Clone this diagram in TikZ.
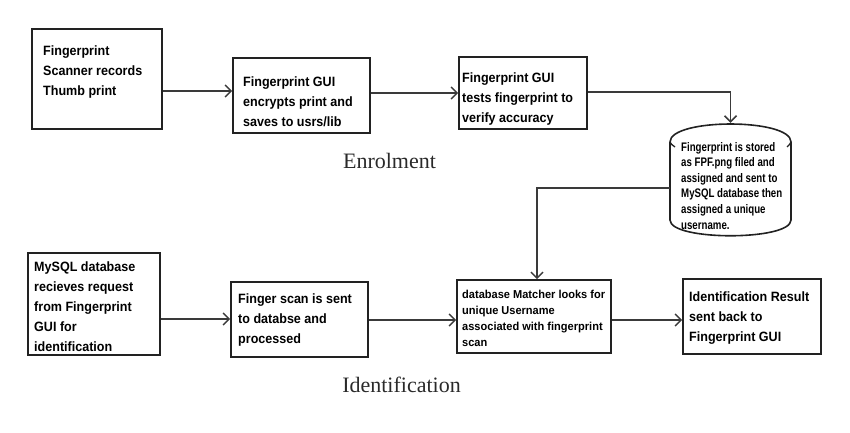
\documentclass[tikz,border=0pt]{standalone}
\usepackage{fontspec}
\setmainfont{Liberation Sans}
\newfontfamily\boxfont[FakeStretch=0.93]{Liberation Sans}
\newfontfamily\smallfont[FakeStretch=0.96]{Liberation Sans}
\newfontfamily\narrowfont[FakeStretch=0.78]{Liberation Sans}
\newfontfamily\labelfont{Liberation Serif}
\usetikzlibrary{arrows.meta,calc}
\definecolor{boxline}{HTML}{222222}
\definecolor{arrline}{HTML}{3A3A3A}
\definecolor{labtext}{HTML}{2A2A2A}
\tikzset{
  procbox/.style={draw=boxline, line width=1.6pt, rectangle, inner sep=0pt, fill=white},
  boxtext/.style={anchor=north west, inner sep=0pt, align=left, text=black,
    font=\boxfont\fontsize{13.5}{20}\selectfont\bfseries},
  smalltext/.style={anchor=north west, inner sep=0pt, align=left, text=black,
    font=\smallfont\fontsize{11.5}{16}\selectfont\bfseries},
  cyltext/.style={anchor=north west, inner sep=0pt, align=left, text=black,
    font=\narrowfont\fontsize{12.4}{15.6}\selectfont\bfseries},
  arr/.style={draw=arrline, line width=1.5pt, -{Straight Barb[length=6pt,width=12pt,line width=1.5pt]}},
  sectlabel/.style={anchor=base, inner sep=0pt, text=labtext, font=\labelfont\fontsize{22}{24}\selectfont}
}
\begin{document}
\begin{tikzpicture}[x=1pt,y=-1pt]
\useasboundingbox (0,0) rectangle (850,432);

% boxes
\node[procbox, minimum width=130pt, minimum height=100pt] (A) at (97,79) {};
\node[procbox, minimum width=137pt, minimum height=75pt] (B) at (301.5,95.5) {};
\node[procbox, minimum width=128pt, minimum height=72pt] (C) at (523,93) {};
\node[procbox, minimum width=132pt, minimum height=102pt] (E) at (94,304) {};
\node[procbox, minimum width=137pt, minimum height=75pt] (F) at (299.5,319.5) {};
\node[procbox, minimum width=154pt, minimum height=73pt] (D) at (534,316.5) {};
\node[procbox, minimum width=138pt, minimum height=75pt] (G) at (752,316.5) {};

% cylinder (storage)
\node[inner sep=0pt, minimum width=121pt, minimum height=113pt] (cyl) at (730.5,179.5) {};
\draw[draw=boxline, line width=1.6pt, fill=white]
  (670,220) -- (670,142) .. controls (670,118) and (791,118) .. (791,142)
  -- (791,220) .. controls (791,241) and (670,241) .. (670,220) -- cycle;
\draw[draw=boxline, line width=1.3pt] (670,142) .. controls (671,144) .. (675,147);
\draw[draw=boxline, line width=1.3pt] (791,142) .. controls (790,144) .. (787,147);

% texts
\node[boxtext] (tA) at (43,45.1) {Fingerprint\\Scanner records\\Thumb print};
\node[boxtext] (tB) at (243,76.1) {Fingerprint GUI\\encrypts print and\\saves to usrs/lib};
\node[boxtext] (tC) at (462,72.1) {Fingerprint GUI\\tests fingerprint to\\verify accuracy};
\node[cyltext] (tcyl) at (681,141.9) {Fingerprint is stored\\as FPF.png filed and\\assigned and sent to\\MySQL database then\\assigned a unique\\username.};
\node[boxtext] (tE) at (34,261.1) {MySQL database\\recieves request\\from Fingerprint\\GUI for\\identification};
\node[boxtext] (tF) at (238,293.1) {Finger scan is sent\\to databse and\\processed};
\node[smalltext] (tD) at (462,289.9) {database Matcher looks for\\unique Username\\associated with fingerprint\\scan};
\node[boxtext] (tG) at (689,291.1) {Identification Result\\sent back to\\Fingerprint GUI};

% section labels
\node[sectlabel] (enrol) at (389.5,168) {Enrolment};
\node[sectlabel] (ident) at (401.5,392) {Identification};

% connectors
\draw[arr] (A.east |- 0,91) -- (B.west |- 0,91);
\draw[arr] (B.east |- 0,93) -- (C.west |- 0,93);
\draw[arr] (C.east |- 0,92) -| (cyl.north);
\draw[arr] ($(cyl.west)+(0,8.5)$) -| ($(D.north)+(3,0)$);
\draw[arr] (E.east |- 0,319) -- (F.west |- 0,319);
\draw[arr] (F.east |- 0,320) -- (D.west |- 0,320);
\draw[arr] (D.east |- 0,320) -- (G.west |- 0,320);
\end{tikzpicture}
\end{document}
